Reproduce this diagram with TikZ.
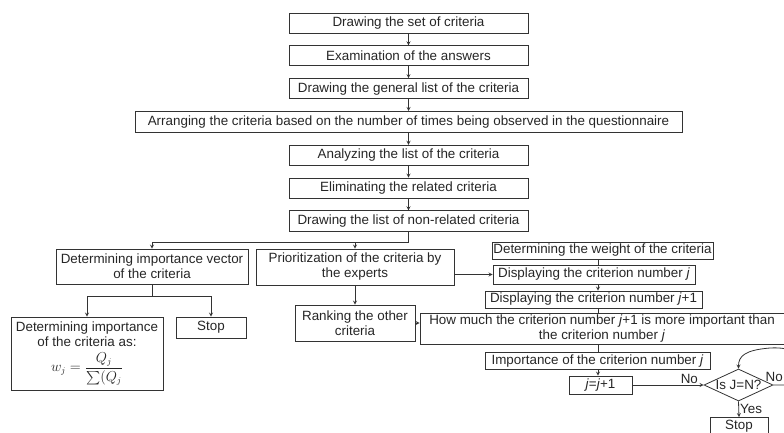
\documentclass[tikz,border=0pt]{standalone}
\usepackage{amsmath}
\usepackage{amssymb}
\usepackage{fontspec}
\setmainfont{Liberation Sans}
\usetikzlibrary{shapes,arrows,positioning}

\begin{document}
\begin{tikzpicture}[
    x=1pt, y=-1pt,
    node distance=12pt,
    box/.style={rectangle, draw=black!80, line width=0.8pt, text=black!85, inner sep=1pt, align=center, font=\fontsize{13.4}{15}\selectfont},
    cond/.style={diamond, draw=black!80, line width=0.8pt, text=black!85, inner sep=0pt, aspect=2.15, font=\fontsize{13.4}{15}\selectfont},
    lbl/.style={text=black!85, inner sep=1pt, font=\fontsize{13.4}{15}\selectfont},
    arrow/.style={->, >=stealth, line width=0.8pt, draw=black!80},
    link/.style={line width=0.8pt, draw=black!80}
]
    \useasboundingbox (0,0) rectangle (784,432);

    % main column
    \node[box, minimum width=239pt, minimum height=20pt] (set) at (408.5,23) {Drawing the set of criteria};
    \node[box, minimum width=239pt, minimum height=20pt, below=of set] (exam) {Examination of the answers};
    \node[box, minimum width=239pt, minimum height=20pt, below=of exam] (genlist) {Drawing the general list of the criteria};
    \node[box, minimum width=547pt, minimum height=21pt, below=of genlist] (arrange) {Arranging the criteria based on the number of times being observed in the questionnaire};
    \node[box, minimum width=239pt, minimum height=20pt, below=of arrange] (analyze) {Analyzing the list of the criteria};
    \node[box, minimum width=239pt, minimum height=20pt, below=of analyze] (elim) {Eliminating the related criteria};
    \node[box, minimum width=239pt, minimum height=21pt, below=of elim] (nonrel) {Drawing the list of non-related criteria};

    % left branch
    \node[box, minimum width=192pt, minimum height=35pt] (vec) at (152,266.5) {Determining importance vector\\of the criteria};
    \node[box, minimum width=152pt, minimum height=73pt] (formula) at (87,353.5) {Determining importance\\of the criteria as:\\[5pt]$w_j=\dfrac{Q_j}{\sum(Q_j}$};
    \node[box, minimum width=70pt, minimum height=21pt] (stopA) at (211,327.5) {Stop};

    % middle branch
    \node[box, minimum width=198pt, minimum height=36pt] (prio) at (355,267) {Prioritization of the criteria by\\the experts};
    \node[box, minimum width=120pt, minimum height=36pt] (rank) at (355,323) {Ranking the other\\criteria};

    % right branch
    \coordinate (spine) at (598,0);
    \node[box, minimum width=221pt, minimum height=17pt] (weight) at (602.5,250.5) {Determining the weight of the criteria};
    \node[box, minimum width=202pt, minimum height=19pt] (dispj) at (594,274.5) {Displaying the criterion number \textit{j}};
    \node[box, minimum width=217pt, minimum height=17pt] (dispjj) at (593.5,299.5) {Displaying the criterion number \textit{j}+1};
    \node[box, minimum width=364pt, minimum height=31pt] (how) at (602,328.5) {How much the criterion number \textit{j}+1 is more important than\\the criterion number \textit{j}};
    \node[box, minimum width=225pt, minimum height=17pt] (imp) at (597.5,361) {Importance of the criterion number \textit{j}};
    \node[box, minimum width=63pt, minimum height=18pt] (incr) at (600.5,385) {\textit{j}=\textit{j}+1};
    \node[cond, minimum width=69pt, minimum height=32pt] (check) at (738.5,385) {Is J=N?};
    \node[box, minimum width=58pt, minimum height=18pt] (stopB) at (739,426.5) {Stop};

    % connectors of the main column
    \draw[arrow] (set) -- (exam);
    \draw[arrow] (exam) -- (genlist);
    \draw[arrow] (genlist) -- (arrange);
    \draw[arrow] (arrange) -- (analyze);
    \draw[arrow] (analyze) -- (elim);
    \draw[arrow] (elim) -- (nonrel);

    % splitting
    \draw[link] (nonrel.south) -- ++(0,10) coordinate (fork);
    \draw[arrow] (fork) -| (vec.north);
    \draw[arrow] (fork) -| (prio.north);
    \draw[link] (vec.south) -- ++(0,12) coordinate (forkA);
    \draw[arrow] (forkA) -| (formula.north);
    \draw[arrow] (forkA) -| (stopA.north);
    \draw[arrow] (prio) -- (rank);
    \draw[arrow] (rank.east) -- (rank.east -| how.west);
    \draw[arrow] (prio.east |- dispj.west) -- (dispj.west);

    % right column
    \draw[link] (weight.south -| spine) -- (dispj.north -| spine);
    \draw[arrow] (dispj.south -| spine) -- (dispjj.north -| spine);
    \draw[link] (dispjj.south -| spine) -- (how.north -| spine);
    \draw[link] (how.south -| spine) -- (imp.north -| spine);
    \draw[arrow] (imp.south -| spine) -- (incr.north -| spine);
    \draw[arrow] (incr.east) -- node[lbl, above, pos=0.8] {No} (check.west);
    \draw[arrow] (check.south) -- node[lbl, right] {Yes} (stopB.north);
    \draw[arrow] (check.east) -- (800,385) .. controls (815,385) and (815,345) .. (770,348) .. controls (745,350) and (738.5,356) .. (check.north);
    \node[lbl, anchor=south east] (no2) at (784,383) {No};
\end{tikzpicture}
\end{document}
